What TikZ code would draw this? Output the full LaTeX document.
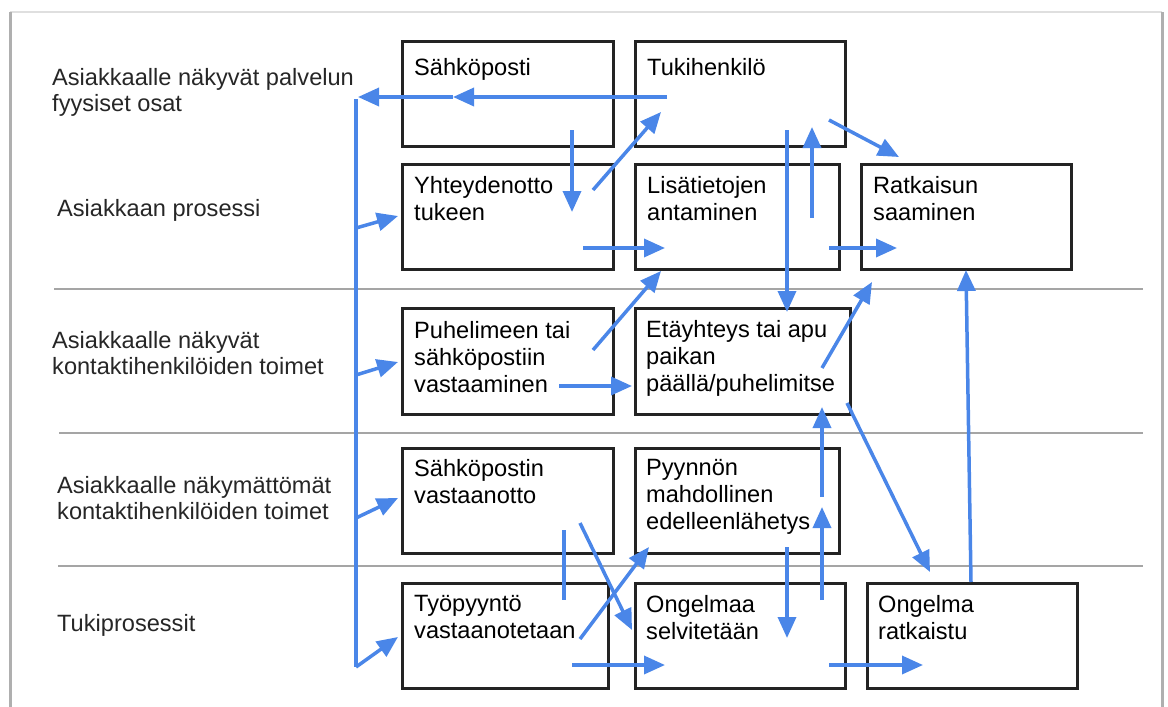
\documentclass[tikz,border=0pt]{standalone}
\usepackage{fontspec}
\setmainfont{Liberation Sans}
\usetikzlibrary{arrows.meta,positioning,calc}
\definecolor{FlowBlue}{RGB}{74,134,232}
\definecolor{BoxLine}{RGB}{35,35,35}
\definecolor{LaneGray}{RGB}{165,165,165}
\definecolor{FrameGray}{RGB}{175,175,175}

\begin{document}
\begin{tikzpicture}[
  x=1pt, y=-1pt,
  box/.style={rectangle, draw=BoxLine, line width=2.5pt, anchor=north west, inner sep=0pt, minimum height=105pt},
  boxtext/.style={anchor=north west, inner sep=0pt, align=left, font=\fontsize{23.6}{27}\selectfont, color=black,
                  execute at begin node={\rule{0pt}{22pt}}},
  lanetext/.style={anchor=north west, inner sep=0pt, align=left, font=\fontsize{23.6}{26.5}\selectfont, color=black!85,
                   execute at begin node={\rule{0pt}{22pt}}},
  arrow/.style={-{Triangle[length=21pt,width=18pt]}, line width=3.5pt, FlowBlue},
  link/.style={line width=3.5pt, FlowBlue},
  lane/.style={LaneGray, line width=1.5pt}
]
\useasboundingbox (0,0) rectangle (1168,707);

% frame of the sheet
\draw[FrameGray!40, line width=1.5pt] (10,12) -- (1162,12);
\draw[FrameGray, line width=3pt] (10,712) -- (10,12);
\draw[FrameGray, line width=3pt] (1162,12) -- (1162,712);

% lanes
\draw[lane] (54,289) -- (1143,289);
\draw[lane] (59,433) -- (1143,433);
\draw[lane] (58,566) -- (1143,566);

\node[lanetext] (lblFyysiset) at (52,68) {Asiakkaalle näkyvät palvelun\\fyysiset osat};
\node[lanetext] (lblAsiakas) at (57,194) {Asiakkaan prosessi};
\node[lanetext] (lblNakyvat) at (52,331) {Asiakkaalle näkyvät\\kontaktihenkilöiden toimet};
\node[lanetext] (lblNakymattomat) at (57,476) {Asiakkaalle näkymättömät\\kontaktihenkilöiden toimet};
\node[lanetext] (lblTuki) at (57,609) {Tukiprosessit};

% boxes
\node[box, minimum width=211pt] (sposti) at (401,40) {};
\node[box, minimum width=210pt] (tuki) at (634,40) {};
\node[box, minimum width=211pt] (yhteys) at (401,163) {};
\node[box, minimum width=204pt] (lisatieto) at (634,163) {};
\node[box, minimum width=210pt] (ratkaisu) at (860,163) {};
\node[box, minimum width=211pt, minimum height=106pt] (puhelin) at (401,307) {};
\node[box, minimum width=215pt, minimum height=106pt] (etatuki) at (634,307) {};
\node[box, minimum width=211pt] (vastaanotto) at (401,447) {};
\node[box, minimum width=204pt] (edelleen) at (634,447) {};
\node[box, minimum width=206pt] (tyopyynto) at (401,582) {};
\node[box, minimum width=210pt] (selvitys) at (634,582) {};
\node[box, minimum width=210pt] (ratkaistu) at (866,582) {};

\node[boxtext] (spostiText) at ([shift={(13,13)}]sposti.north west) {Sähköposti};
\node[boxtext] (tukiText) at ([shift={(13,13)}]tuki.north west) {Tukihenkilö};
\node[boxtext] (yhteysText) at ([shift={(13,13)}]yhteys.north west) {Yhteydenotto\\tukeen};
\node[boxtext] (lisatietoText) at ([shift={(13,13)}]lisatieto.north west) {Lisätietojen\\antaminen};
\node[boxtext] (ratkaisuText) at ([shift={(13,13)}]ratkaisu.north west) {Ratkaisun\\saaminen};
\node[boxtext] (puhelinText) at ([shift={(13,14)}]puhelin.north west) {Puhelimeen tai\\sähköpostiin\\vastaaminen};
\node[boxtext] (etatukiText) at ([shift={(12,13)}]etatuki.north west) {Etäyhteys tai apu\\paikan\\päällä/puhelimitse};
\node[boxtext] (vastaanottoText) at ([shift={(13,12)}]vastaanotto.north west) {Sähköpostin\\vastaanotto};
\node[boxtext] (edelleenText) at ([shift={(12,12)}]edelleen.north west) {Pyynnön\\mahdollinen\\edelleenlähetys};
\node[boxtext] (tyopyyntoText) at ([shift={(13,13)}]tyopyynto.north west) {Työpyyntö\\vastaanotetaan};
\node[boxtext] (selvitysText) at ([shift={(12,13)}]selvitys.north west) {Ongelmaa\\selvitetään};
\node[boxtext] (ratkaistuText) at ([shift={(12,13)}]ratkaistu.north west) {Ongelma\\ratkaistu};

% arrow ends
\coordinate (topStart) at (667,97); \coordinate (topMid) at (453,97); \coordinate (topEnd) at (358,97);
\coordinate (spineTop) at (356,99); \coordinate (spineBot) at (356,667);
\coordinate (br1) at (356,228); \coordinate (br1End) at (398,216);
\coordinate (br2) at (356,375); \coordinate (br2End) at (398,362);
\coordinate (br3) at (356,518); \coordinate (br3End) at (398,498);
\coordinate (br4End) at (398,637);
\coordinate (a1) at (572,130); \coordinate (a1End) at (572,212);
\coordinate (a2) at (593,190); \coordinate (a2End) at (661,112);
\coordinate (a3) at (583,248); \coordinate (a3End) at (665,248);
\coordinate (a4) at (787,130); \coordinate (a4End) at (787,312);
\coordinate (a5) at (812,218); \coordinate (a5End) at (812,127);
\coordinate (a6) at (829,120); \coordinate (a6End) at (899,157);
\coordinate (a7) at (829,248); \coordinate (a7End) at (897,248);
\coordinate (a8) at (593,350); \coordinate (a8End) at (661,271);
\coordinate (a9) at (559,386); \coordinate (a9End) at (632,386);
\coordinate (a10) at (822,368); \coordinate (a10End) at (872,282);
\coordinate (a11) at (971,582); \coordinate (a11End) at (966,270);
\coordinate (a12) at (847,403); \coordinate (a12End) at (930,572);
\coordinate (a13) at (822,497); \coordinate (a13End) at (822,407);
\coordinate (a14) at (822,600); \coordinate (a14End) at (822,507);
\coordinate (a15) at (787,547); \coordinate (a15End) at (787,638);
\coordinate (b1) at (564,530); \coordinate (b1End) at (564,600);
\coordinate (a16) at (580,523); \coordinate (a16End) at (632,630);
\coordinate (a17) at (580,639); \coordinate (a17End) at (649,547);
\coordinate (a18) at (572,665); \coordinate (a18End) at (665,665);
\coordinate (a19) at (829,665); \coordinate (a19End) at (923,665);

% flow
\draw[arrow] (topStart) -- (topMid);
\draw[arrow] (topMid) -- (topEnd);
\draw[link] (spineTop) -- (spineBot);
\draw[arrow] (br1) -- (br1End);
\draw[arrow] (br2) -- (br2End);
\draw[arrow] (br3) -- (br3End);
\draw[arrow] (spineBot) -- (br4End);
\draw[arrow] (a1) -- (a1End);
\draw[arrow] (a2) -- (a2End);
\draw[arrow] (a3) -- (a3End);
\draw[arrow] (a4) -- (a4End);
\draw[arrow] (a5) -- (a5End);
\draw[arrow] (a6) -- (a6End);
\draw[arrow] (a7) -- (a7End);
\draw[arrow] (a8) -- (a8End);
\draw[arrow] (a9) -- (a9End);
\draw[arrow] (a10) -- (a10End);
\draw[arrow] (a11) -- (a11End);
\draw[arrow] (a12) -- (a12End);
\draw[arrow] (a13) -- (a13End);
\draw[arrow] (a14) -- (a14End);
\draw[arrow] (a15) -- (a15End);
\draw[link] (b1) -- (b1End);
\draw[arrow] (a16) -- (a16End);
\draw[arrow] (a17) -- (a17End);
\draw[arrow] (a18) -- (a18End);
\draw[arrow] (a19) -- (a19End);
\end{tikzpicture}
\end{document}
